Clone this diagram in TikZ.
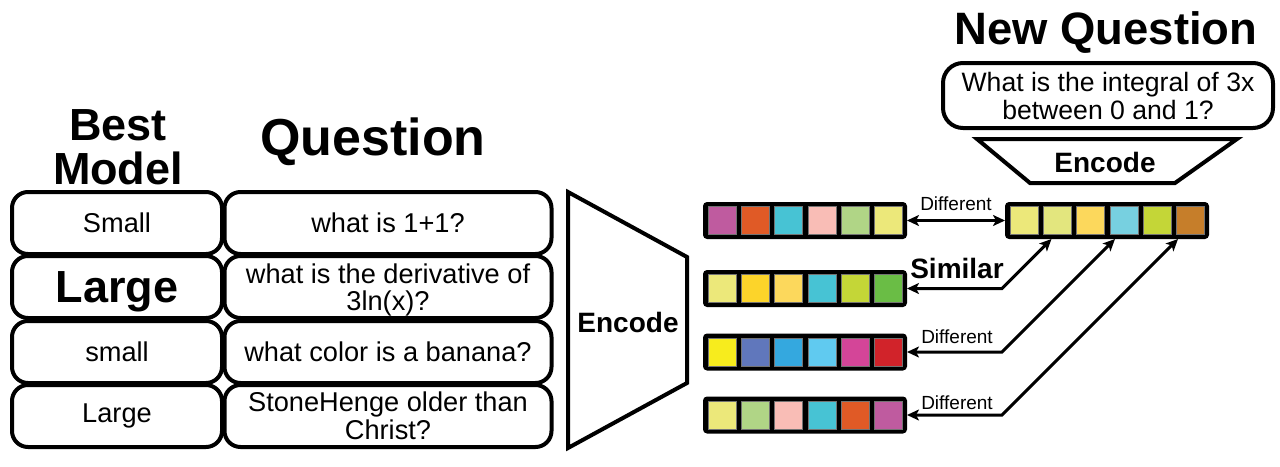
\documentclass[tikz,border=0pt]{standalone}
\usepackage{fontspec}
\setmainfont{Liberation Sans}
\usetikzlibrary{calc,arrows.meta,positioning}

\definecolor{cPurple}{HTML}{BF5B9F}
\definecolor{cOrange}{HTML}{E05A26}
\definecolor{cCyan}{HTML}{47C3D4}
\definecolor{cPink}{HTML}{F9BDB6}
\definecolor{cLeaf}{HTML}{B0D586}
\definecolor{cLemon}{HTML}{ECE87A}
\definecolor{cPale}{HTML}{E3E67E}
\definecolor{cGold}{HTML}{FCD42A}
\definecolor{cSand}{HTML}{FCD85C}
\definecolor{cLime}{HTML}{C4D637}
\definecolor{cGreen}{HTML}{6ABD45}
\definecolor{cYellow}{HTML}{F7EC1D}
\definecolor{cBlue}{HTML}{6077BC}
\definecolor{cSky}{HTML}{34A8DF}
\definecolor{cIce}{HTML}{60CAF0}
\definecolor{cMagenta}{HTML}{D44598}
\definecolor{cRed}{HTML}{D1232A}
\definecolor{cTeal}{HTML}{77D0E0}
\definecolor{cBrown}{HTML}{C67E2A}

\begin{document}
\begin{tikzpicture}[x=0.5pt,y=-0.5pt,line width=2pt,font=\fontsize{13.6}{13.8}\selectfont]

\tikzset{tablebox/.style={draw,rounded corners=8pt,fill=white,minimum height=31pt,inner sep=0pt,align=center},
modelbox/.style={tablebox,minimum width=105pt},
questionbox/.style={tablebox,minimum width=163.5pt},
vecbox/.style={fill=black,rounded corners=2pt,minimum width=102pt,minimum height=18.5pt,inner sep=0pt,outer sep=0pt},
cell/.style={minimum size=14pt,inner sep=0pt,draw=black!55,line width=0.3pt},
title/.style={font=\fontsize{22.5}{22}\selectfont\bfseries,align=center},
encodetext/.style={font=\fontsize{14}{15}\selectfont\bfseries},
difflabel/.style={font=\fontsize{9.5}{10}\selectfont},
link/.style={line width=1.5pt},
>={Stealth[length=6pt,width=5.5pt,inset=1.5pt]}}

\useasboundingbox (0,0) rectangle (1280,466);

% Column titles
\node[title] (bestTitle) at (118,147) {Best\\Model};
\node[title,font=\fontsize{26}{27}\selectfont\bfseries] (questionTitle) at (373,142) {Question};
\node[title,font=\fontsize{22.7}{23}\selectfont\bfseries] (newTitle) at (1106,33) {New Question};

% Table of questions
\node[modelbox] (m1) at (117,223) {Small};
\node[modelbox,font=\fontsize{22.5}{23}\selectfont\bfseries,text depth=0pt] (m2) at (117,287) {Large};
\node[modelbox] (m3) at (117,352) {small};
\node[modelbox] (m4) at (117,416) {Large};
\node[questionbox] (q1) at (388,223) {what is 1+1?};
\node[questionbox,text depth=0pt] (q2) at (388,287) {what is the derivative of\\3ln(x)?};
\node[questionbox] (q3) at (388,352) {what color is a banana?};
\node[questionbox] (q4) at (388,416) {StoneHenge older than\\Christ?};

% Encoders
\draw[fill=white] (568,192) -- (687,257) -- (687,383) -- (568,448) -- cycle;
\node[encodetext] (enc) at (628,322) {Encode};
\node[tablebox,minimum width=165pt,minimum height=32.5pt,rounded corners=10pt,font=\fontsize{13.3}{14}\selectfont] (newQ) at (1108,95.5) {What is the integral of 3x\\between 0 and 1?};
\draw[fill=white] (977,139) -- (1237,139) -- (1175,183) -- (1030,183) -- cycle;
\node[encodetext] (encNew) at (1105,162) {Encode};

% Embedding vectors
\node[vecbox] (vA) at (805,220.5) {};
\node[vecbox] (vB) at (805,288.5) {};
\node[vecbox] (vC) at (805,352) {};
\node[vecbox] (vD) at (805,415) {};
\node[vecbox] (vNew) at (1107,220.5) {};
\foreach \c [count=\i from 0] in {cPurple,cOrange,cCyan,cPink,cLeaf,cLemon} \node[cell,fill=\c] (vA-\i) at ($(vA.west)+(19+33.33*\i,0)$) {};
\foreach \c [count=\i from 0] in {cLemon,cGold,cSand,cCyan,cLime,cGreen} \node[cell,fill=\c] (vB-\i) at ($(vB.west)+(19+33.33*\i,0)$) {};
\foreach \c [count=\i from 0] in {cYellow,cBlue,cSky,cIce,cMagenta,cRed} \node[cell,fill=\c] (vC-\i) at ($(vC.west)+(19+33.33*\i,0)$) {};
\foreach \c [count=\i from 0] in {cLemon,cLeaf,cPink,cCyan,cOrange,cPurple} \node[cell,fill=\c] (vD-\i) at ($(vD.west)+(19+33.33*\i,0)$) {};
\foreach \c [count=\i from 0] in {cLemon,cPale,cSand,cTeal,cLime,cBrown} \node[cell,fill=\c] (vNew-\i) at ($(vNew.west)+(19+33.33*\i,0)$) {};

% Comparisons
\coordinate (bendB) at (1002,288.5);
\coordinate (bendC) at (1002,352);
\coordinate (bendD) at (1002,415);
\coordinate (hitB) at ($(bendB)+(49.5,-49.5)$);
\coordinate (hitC) at ($(bendC)+(113,-113)$);
\coordinate (hitD) at ($(bendD)+(176,-176)$);
\draw[link,<->] (vA.east) -- (vNew.west);
\draw[link,<->] (vB.east) -- (bendB) -- (hitB);
\draw[link,<->] (vC.east) -- (bendC) -- (hitC);
\draw[link,<->] (vD.east) -- (bendD) -- (hitD);
\node[difflabel] (dA) at (956,204) {Different};
\node[encodetext] (sB) at (957,268) {Similar};
\node[difflabel] (dC) at (957,337) {Different};
\node[difflabel] (dD) at (957,403) {Different};

\end{tikzpicture}
\end{document}
